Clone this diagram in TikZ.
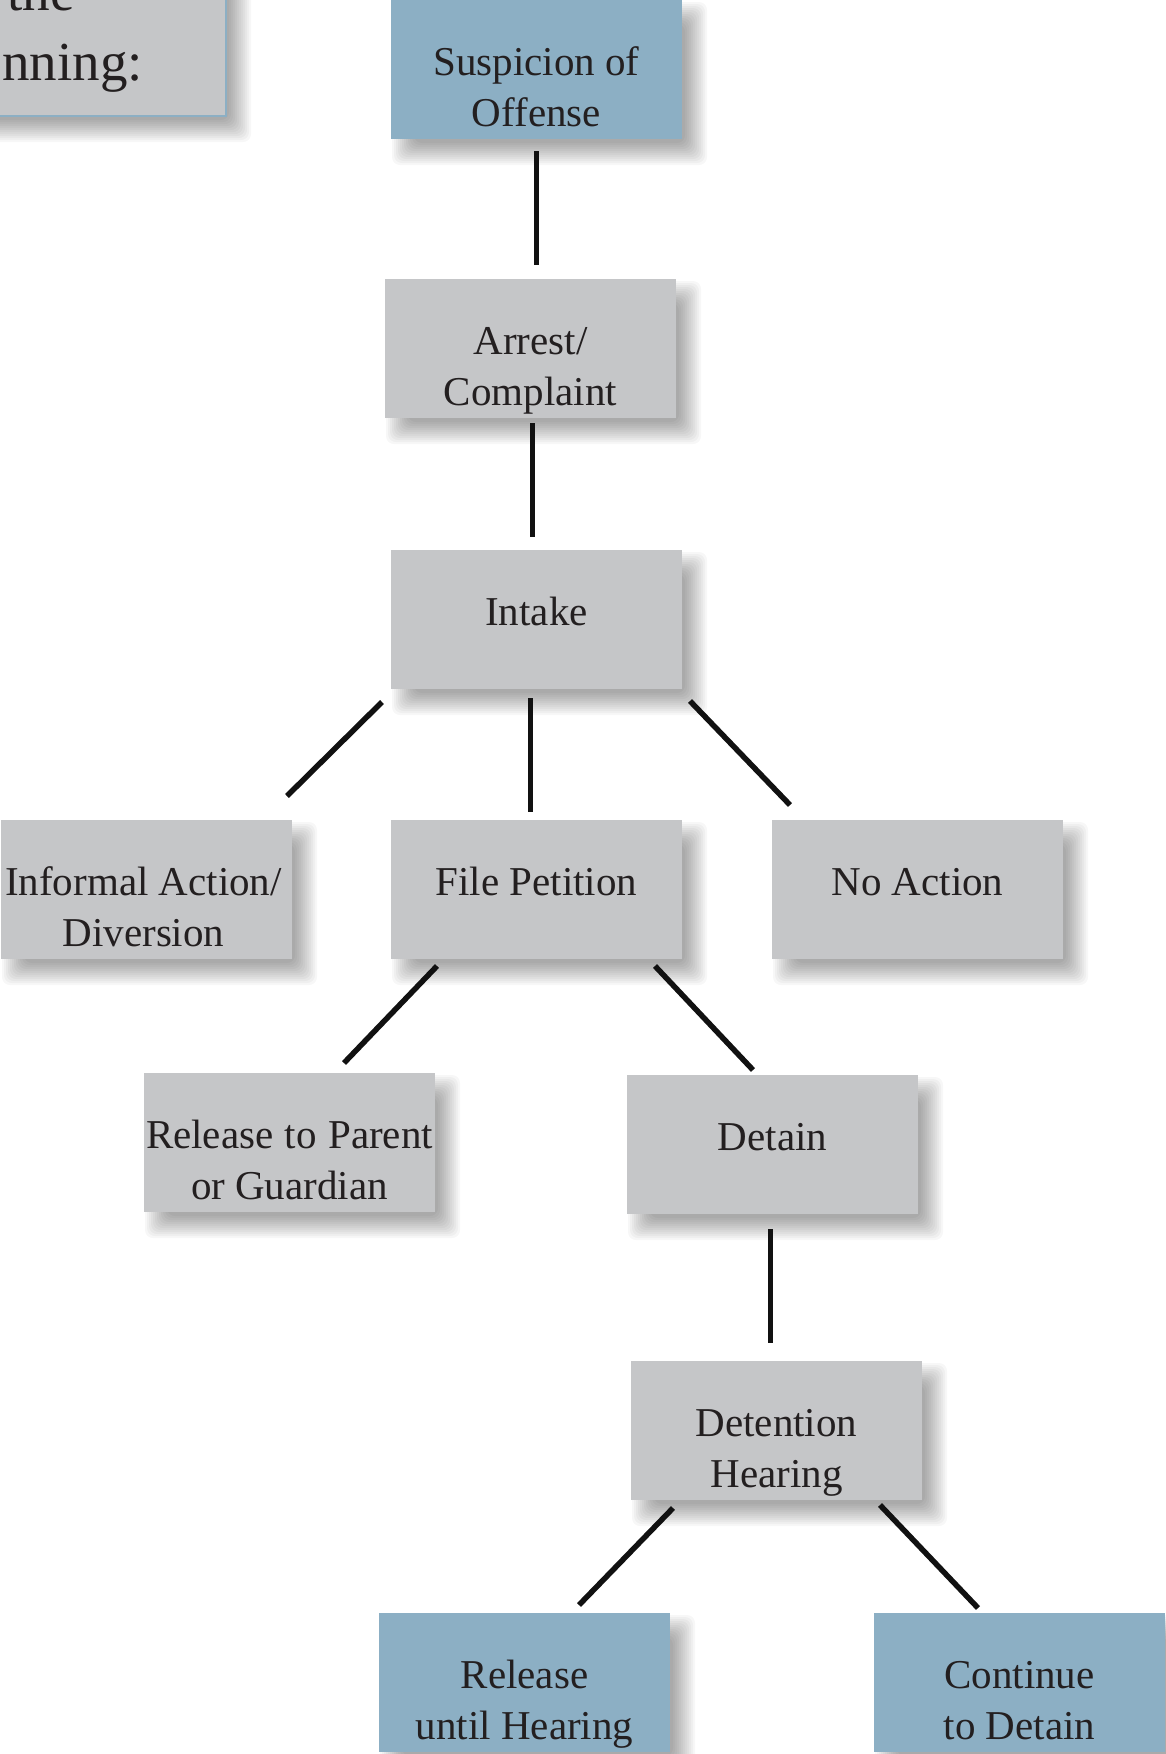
\documentclass[tikz,border=0pt]{standalone}
\usepackage{fontspec}
\setmainfont{Liberation Serif}
\usetikzlibrary{calc}
\pgfdeclarelayer{bg}
\pgfdeclarelayer{shadow}
\pgfsetlayers{bg,shadow,main}
\definecolor{boxgray}{HTML}{C5C6C8}
\definecolor{boxblue}{HTML}{8CAFC4}
\definecolor{txtcol}{HTML}{231F20}
\definecolor{linecol}{HTML}{111111}
\tikzset{
  box/.style={rectangle, minimum width=291pt, minimum height=139pt, inner sep=0pt, outer sep=0pt,
    fill=boxgray, anchor=north west},
  bluebox/.style={box, fill=boxblue},
  lbl/.style={anchor=north, inner sep=0pt, align=center, text=txtcol,
    font=\fontsize{41}{51}\selectfont},
  bigtxt/.style={anchor=base east, inner sep=0pt, text=txtcol, font=\fontsize{55}{70}\selectfont},
  conn/.style={line width=5.5pt, draw=linecol},
  shadowlayer/.style={fill=black, opacity=0.03, rounded corners=8pt}
}
\newcommand{\fs}{\rule{0pt}{32pt}}
\begin{document}
\begin{tikzpicture}[x=1pt,y=-1pt]
\useasboundingbox (0,0) rectangle (1166,1754);
\begin{pgfonlayer}{bg}
\fill[white] (0,0) rectangle (1166,1754);
\end{pgfonlayer}

% intro box (cut off by the page edge)
\node[box, minimum width=340pt, minimum height=230pt, draw=boxblue, line width=2pt] (intro) at (-114,-114) {};
\node[bigtxt] (introa) at (75,10) {the};
\node[bigtxt] (introb) at (143,80) {nning:};

% boxes
\node[bluebox] (S) at (391,0) {};
\node[box] (A) at (385,279) {};
\node[box] (I) at (391,550) {};
\node[box] (Inf) at (1,820) {};
\node[box] (F) at (391,820) {};
\node[box] (N) at (772,820) {};
\node[box] (RP) at (144,1073) {};
\node[box] (D) at (627,1075) {};
\node[box] (H) at (631,1361) {};
\node[bluebox] (R) at (379,1613) {};
\node[bluebox] (C) at (874,1613) {};

% soft drop shadows
\begin{pgfonlayer}{shadow}
\foreach \n in {intro,S,A,I,Inf,F,N,RP,D,H,R,C}{
  \foreach \k in {0,...,11}{
    \pgfmathsetmacro\e{12-2*\k}
    \fill[shadowlayer] ($(\n.north west)+(13-\e,14-\e)$) rectangle ($(\n.south east)+(13+\e,14+\e)$);
  }
}
\end{pgfonlayer}

% labels (first baseline 75 below box top)
\node[lbl] (St) at ($(S.north)+(0,43)$) {\fs Suspicion of\\Offense};
\node[lbl] (At) at ($(A.north)+(0,43)$) {\fs Arrest/\\Complaint};
\node[lbl] (It) at ($(I.north)+(0,43)$) {\fs Intake};
\node[lbl] (Inft) at ($(Inf.north)+(-3,43)$) {\fs Informal Action/\\Diversion};
\node[lbl] (Ft) at ($(F.north)+(0,43)$) {\fs File Petition};
\node[lbl] (Nt) at ($(N.north)+(0,43)$) {\fs No Action};
\node[lbl] (RPt) at ($(RP.north)+(0,43)$) {\fs\makebox[287pt][s]{Release to Parent}\\or Guardian};
\node[lbl] (Dt) at ($(D.north)+(0,43)$) {\fs Detain};
\node[lbl] (Ht) at ($(H.north)+(0,43)$) {\fs Detention\\Hearing};
\node[lbl] (Rt) at ($(R.north)+(0,43)$) {\fs Release\\until Hearing};
\node[lbl] (Ct) at ($(C.north)+(0,43)$) {\fs Continue\\to Detain};

% connectors
\draw[conn] ($(S.south)+(0,12)$) -- ($(S.south |- A.north)+(0,-14)$);
\draw[conn] ($(A.south)+(2,5)$) -- ($(A.south |- I.north)+(2,-13)$);
\draw[conn] ($(I.south west)+(-9,13)$) -- ($(Inf.north east)+(-5,-24)$);
\draw[conn] ($(I.south)+(-6,9)$) -- ($(I.south |- F.north)+(-6,-8)$);
\draw[conn] ($(I.south east)+(8,12)$) -- ($(N.north west)+(18,-15)$);
\draw[conn] ($(F.south west)+(46,7)$) -- ($(RP.north east)+(-91,-10)$);
\draw[conn] ($(F.south east)+(-27,7)$) -- ($(D.north west)+(126,-5)$);
\draw[conn] ($(D.south)+(-2,15)$) -- ($(D.south |- H.north)+(-2,-18)$);
\draw[conn] ($(H.south west)+(42,8)$) -- ($(R.north west)+(200,-8)$);
\draw[conn] ($(H.south east)+(-42,5)$) -- ($(C.north west)+(104,-5)$);
\end{tikzpicture}
\end{document}
